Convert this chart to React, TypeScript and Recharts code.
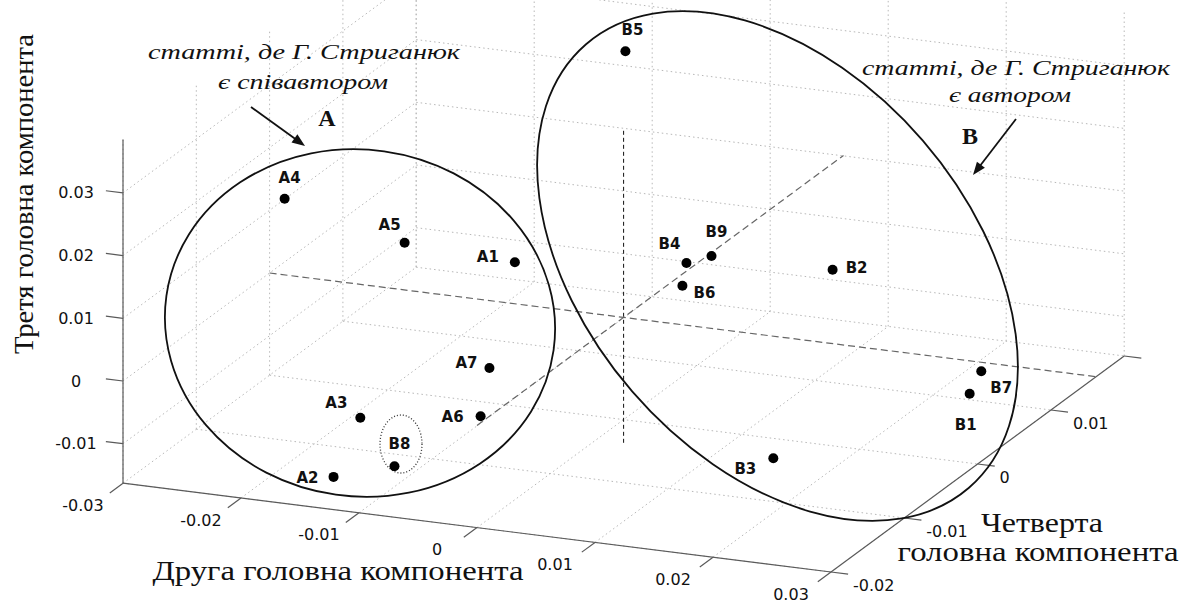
import React from 'react';
import { ScatterChart, Scatter, XAxis, YAxis, ReferenceLine, ReferenceDot } from 'recharts';

// ---------- data (3-D principal component scores) ----------
const NAMES = ['A1', 'A2', 'A3', 'A4', 'A5', 'A6', 'A7', 'B1', 'B2', 'B3', 'B4', 'B5', 'B6', 'B7', 'B8', 'B9'];
// Друга головна компонента (x)
const PC2 = [-0.0117, -0.0134, -0.0161, -0.025, -0.0198, -0.0028, -0.0064, 0.0256, 0.0115, 0.0189, 0.0016, -0.0073, 0.0025, 0.0241, -0.0101, 0.0031];
// Четверта головна компонента (y, depth)
const PC4 = [0.004, -0.018, -0.01, -0.006, 0.002, -0.015, -0.008, 0.006, 0.01, -0.01, 0.006, 0.012, 0.004, 0.01, -0.015, 0.007];
// Третя головна компонента (z, vertical)
const PC3 = [0.0026, -0.0131, -0.0112, 0.0182, 0.0055, -0.0035, -0.0027, -0.0113, 0.0017, -0.0094, 0.0039, 0.0304, 0.0022, -0.0115, -0.0132, 0.0045];

const X_TICKS = [-0.03, -0.02, -0.01, 0, 0.01, 0.02, 0.03];
const Y_TICKS = [-0.02, -0.01, 0, 0.01, 0.02];
const Z_TICKS = [-0.01, 0, 0.01, 0.02, 0.03];
const X_LIM = [-0.03, 0.03];
const Y_LIM = [-0.02, 0.02];
const Z_LIM = [-0.0163, 0.0385];
const TICK_LABELS_X = ['-0.03', '-0.02', '-0.01', '0', '0.01', '0.02', '0.03'];
const TICK_LABELS_Y = ['-0.02', '-0.01', '0', '0.01', ''];
const TICK_LABELS_Z = ['-0.01', '0', '0.01', '0.02', '0.03'];

// ---------- view (orthographic projection to screen) ----------
const W = 1190;
const H = 600;
const ORIGIN = { x: 623.6, y: 317.4 };
const EX = { x: 11800, y: 1480 };
const EY = { x: 7330, y: -5400 };
const EZ = { x: 0, y: -6270 };
type P = { x: number; y: number };
const proj = (x: number, y: number, z: number): P => ({
  x: ORIGIN.x + EX.x * x + EY.x * y + EZ.x * z,
  y: ORIGIN.y + EX.y * x + EY.y * y + EZ.y * z,
});

const LABEL_OFFSET: Record<string, [number, number]> = {
  A1: [-27, -5], A2: [-26, 1], A3: [-24, -15], A4: [5, -21], A5: [-15, -18], A6: [-28, 1], A7: [-23, -5],
  B1: [-4, 31], B2: [24, -2], B3: [-28, 11], B4: [-17, -19], B5: [7, -21], B6: [22, 7], B7: [20, 17],
  B8: [5, -22], B9: [5, -24],
};

const SERIF = "'Liberation Serif', 'Times New Roman', serif";
const SANS = "'DejaVu Sans', sans-serif";

const points = NAMES.map((n, i) => {
  const p = proj(PC2[i], PC4[i], PC3[i]);
  return { name: n, sx: p.x, sy: p.y };
});

type Seg = { a: P; b: P; stroke: string; dash?: string; w: number };
const segs: Seg[] = [];
const grid = (a: P, b: P) => segs.push({ a, b, stroke: '#b8b8b8', dash: '1.5 3', w: 1 });
const [x0, x1] = X_LIM;
const [y0, y1] = Y_LIM;
const [z0, z1] = Z_LIM;
Y_TICKS.forEach((y) => grid(proj(x0, y, z0), proj(x0, y, z1)));
Z_TICKS.forEach((z) => grid(proj(x0, y0, z), proj(x0, y1, z)));
X_TICKS.forEach((x) => grid(proj(x, y1, z0), proj(x, y1, z1)));
Z_TICKS.forEach((z) => grid(proj(x0, y1, z), proj(x1, y1, z)));
X_TICKS.forEach((x) => grid(proj(x, y0, z0), proj(x, y1, z0)));
Y_TICKS.forEach((y) => grid(proj(x0, y, z0), proj(x1, y, z0)));

const axisSeg = (a: P, b: P) => segs.push({ a, b, stroke: '#5a5a5a', w: 1.2 });
axisSeg(proj(x0, y0, z0), proj(x1, y0, z0));
axisSeg(proj(x1, y0, z0), proj(x1, y1, z0));
axisSeg(proj(x0, y0, z0), proj(x0, y0, z1));
const TL_Y = 0.0018;
const TL_X = 0.00145;
X_TICKS.forEach((x) => axisSeg(proj(x, y0, z0), proj(x, y0 - TL_Y, z0)));
Y_TICKS.forEach((y) => axisSeg(proj(x1, y, z0), proj(x1 + TL_X, y, z0)));
Z_TICKS.forEach((z) => axisSeg(proj(x0, y0, z), proj(x0 - TL_X, y0, z)));

// dashed axes through the origin
segs.push({ a: proj(0, 0, -0.02), b: proj(0, 0, 0.03), stroke: '#111', dash: '4 3', w: 1 });
segs.push({ a: proj(-0.03, 0, 0), b: proj(0.04, 0, 0), stroke: '#666', dash: '7 4', w: 1.2 });
segs.push({ a: proj(0, -0.02, 0), b: proj(0, 0.03, 0), stroke: '#666', dash: '7 4', w: 1.2 });

// annotation arrows (screen space)
const ARROWS = [
  { from: { x: 251, y: 107 }, to: { x: 305, y: 146 } },
  { from: { x: 1016, y: 119 }, to: { x: 973, y: 175 } },
];

type TextItem = {
  x: number; y: number; text: string; size: number; family: string; weight?: string; style?: string;
  anchor?: string; len?: number; rotate?: number; baseline?: string;
};
const texts: TextItem[] = [];
X_TICKS.forEach((x, i) => {
  const p = proj(x, y0, z0);
  texts.push({ x: p.x - 40, y: p.y + 22, text: TICK_LABELS_X[i], size: 16, family: SANS, anchor: 'middle', baseline: 'central' });
});
Y_TICKS.forEach((y, i) => {
  if (!TICK_LABELS_Y[i]) return;
  const p = proj(x1, y, z0);
  texts.push({ x: p.x + 22, y: p.y + 13, text: TICK_LABELS_Y[i], size: 16, family: SANS, anchor: 'start', baseline: 'central' });
});
Z_TICKS.forEach((z, i) => {
  const p = proj(x0, y0, z);
  texts.push({ x: p.x - 47, y: p.y, text: TICK_LABELS_Z[i], size: 16, family: SANS, anchor: 'middle', baseline: 'central' });
});
texts.push({ x: 33, y: 194, text: 'Третя головна компонента', size: 28, family: SERIF, anchor: 'middle', len: 320, rotate: -90 });
texts.push({ x: 338, y: 580, text: 'Друга головна компонента', size: 27, family: SERIF, anchor: 'middle', len: 371 });
texts.push({ x: 1042, y: 532, text: 'Четверта', size: 27, family: SERIF, anchor: 'middle', len: 122 });
texts.push({ x: 1038, y: 561, text: 'головна компонента', size: 27, family: SERIF, anchor: 'middle', len: 281 });
texts.push({ x: 304, y: 59, text: 'статті, де Г. Стриганюк', size: 21, family: SERIF, style: 'italic', anchor: 'middle', len: 312 });
texts.push({ x: 303, y: 89, text: 'є співавтором', size: 21, family: SERIF, style: 'italic', anchor: 'middle', len: 170 });
texts.push({ x: 1016, y: 75, text: 'статті, де Г. Стриганюк', size: 21, family: SERIF, style: 'italic', anchor: 'middle', len: 308 });
texts.push({ x: 1010, y: 102, text: 'є автором', size: 21, family: SERIF, style: 'italic', anchor: 'middle', len: 122 });
texts.push({ x: 327, y: 126, text: 'A', size: 24, family: SERIF, weight: 'bold', anchor: 'middle' });
texts.push({ x: 970, y: 144, text: 'B', size: 24, family: SERIF, weight: 'bold', anchor: 'middle' });

// cluster outlines (screen space)
const ELLIPSES = [
  { cx: 360, cy: 323, rx: 195.5, ry: 173.4, rot: 8, dash: undefined as string | undefined, w: 1.8, color: '#111' },
  { cx: 777.5, cy: 266, rx: 293, ry: 192, rot: 49.2, dash: undefined as string | undefined, w: 1.8, color: '#111' },
  { cx: 401, cy: 444, rx: 21, ry: 29, rot: 0, dash: '1 2' as string | undefined, w: 1.3, color: '#333' },
];

const renderText = (t: TextItem) => (p: any) => {
  const cx = p.cx;
  const cy = p.cy;
  return (
    <text
      x={cx}
      y={cy}
      transform={t.rotate ? `rotate(${t.rotate} ${cx} ${cy})` : undefined}
      textAnchor={t.anchor || 'start'}
      dominantBaseline={t.baseline || 'alphabetic'}
      fontFamily={t.family}
      fontSize={t.size}
      fontWeight={t.weight || 'normal'}
      fontStyle={t.style || 'normal'}
      fill="#111"
      textLength={t.len}
      lengthAdjust={t.len ? 'spacingAndGlyphs' : undefined}
    >
      {t.text}
    </text>
  );
};

const renderEllipse = (e: (typeof ELLIPSES)[number]) => (p: any) => (
  <ellipse
    cx={p.cx}
    cy={p.cy}
    rx={e.rx}
    ry={e.ry}
    transform={`rotate(${e.rot} ${p.cx} ${p.cy})`}
    fill="none"
    stroke={e.color}
    strokeWidth={e.w}
    strokeDasharray={e.dash}
  />
);

const renderHead = (a: (typeof ARROWS)[number]) => (p: any) => {
  const dx = a.to.x - a.from.x;
  const dy = a.to.y - a.from.y;
  const l = Math.hypot(dx, dy);
  const ux = dx / l;
  const uy = dy / l;
  const L = 13;
  const hw = 5;
  const bx = p.cx - ux * L;
  const by = p.cy - uy * L;
  const pts = `${p.cx},${p.cy} ${bx - uy * hw},${by + ux * hw} ${bx + uy * hw},${by - ux * hw}`;
  return <polygon points={pts} fill="#111" />;
};

const PointShape = (p: any) => {
  const name = p.payload?.name as string;
  const off = LABEL_OFFSET[name] || [0, -18];
  return (
    <g>
      <circle cx={p.cx} cy={p.cy} r={5} fill="#000" />
      <text
        x={p.cx + off[0]}
        y={p.cy + off[1]}
        textAnchor="middle"
        dominantBaseline="central"
        fontFamily={SANS}
        fontWeight="bold"
        fontSize={15}
        fill="#111"
      >
        {name}
      </text>
    </g>
  );
};

export default function App() {
  return (
    <div style={{ position: 'absolute', left: 0, top: 0, width: W, height: H, background: '#fff' }}>
      <ScatterChart width={W} height={H} margin={{ top: 0, right: 0, bottom: 0, left: 0 }}>
        <XAxis type="number" dataKey="sx" domain={[0, W]} hide allowDataOverflow />
        <YAxis type="number" dataKey="sy" domain={[0, H]} reversed hide allowDataOverflow />
        {segs.map((s, i) => (
          <ReferenceLine
            key={`s${i}`}
            segment={[{ x: s.a.x, y: s.a.y }, { x: s.b.x, y: s.b.y }]}
            stroke={s.stroke}
            strokeWidth={s.w}
            strokeDasharray={s.dash}
            ifOverflow="visible"
          />
        ))}
        {ARROWS.map((a, i) => (
          <ReferenceLine
            key={`a${i}`}
            segment={[{ x: a.from.x, y: a.from.y }, { x: a.to.x - (a.to.x - a.from.x) * 0.12, y: a.to.y - (a.to.y - a.from.y) * 0.12 }]}
            stroke="#111"
            strokeWidth={1.8}
            ifOverflow="visible"
          />
        ))}
        {ARROWS.map((a, i) => (
          <ReferenceDot key={`h${i}`} x={a.to.x} y={a.to.y} r={0} ifOverflow="visible" shape={renderHead(a)} />
        ))}
        {ELLIPSES.map((e, i) => (
          <ReferenceDot key={`e${i}`} x={e.cx} y={e.cy} r={0} ifOverflow="visible" shape={renderEllipse(e)} />
        ))}
        {texts.map((t, i) => (
          <ReferenceDot key={`t${i}`} x={t.x} y={t.y} r={0} ifOverflow="visible" shape={renderText(t)} />
        ))}
        <Scatter data={points} shape={PointShape} isAnimationActive={false} />
      </ScatterChart>
    </div>
  );
}
